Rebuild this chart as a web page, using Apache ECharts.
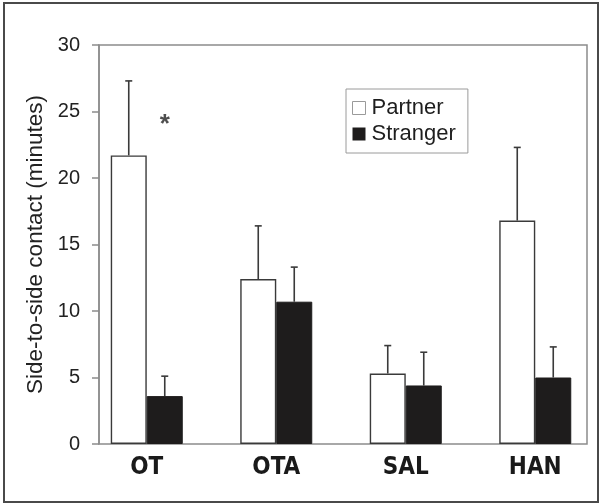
<!DOCTYPE html>
<html>
<head>
<meta charset="utf-8">
<script src="https://cdn.jsdelivr.net/npm/echarts@6/dist/echarts.min.js"></script>
<style>
  html, body { margin: 0; padding: 0; background: #fff; }
  #chart { width: 600px; height: 504px; }
</style>
</head>
<body>
<div id="chart"></div>
<script>
// Side-to-side contact time by treatment group
const categories = ['OT', 'OTA', 'SAL', 'HAN'];
const partnerMean = [21.7, 12.4, 5.3, 16.8];
const partnerSE = [5.6, 4.0, 2.1, 5.5];
const strangerMean = [3.6, 10.7, 4.4, 5.0];
const strangerSE = [1.5, 2.6, 2.5, 2.3];
const yTicks = { min: 0, max: 30, step: 5 };
// significance marker above the OT pair
const sigMarks = [['OT', 24.5]];

const BAR_W = 36;
const CAP_W = 7;
const baseFont = 'Liberation Sans, Arial, Helvetica, sans-serif';

function errorSeries(name, means, ses, side) {
  return {
    type: 'custom',
    name: name + ' SE',
    xAxisIndex: 1,
    yAxisIndex: 1,
    z: 1,
    silent: true,
    data: means.map((m, i) => [i, m, m + ses[i]]),
    renderItem: function (params, api) {
      const base = api.coord([api.value(0), api.value(1)]);
      const top = api.coord([api.value(0), api.value(2)]);
      const x = base[0] + side * BAR_W / 2;
      const style = { stroke: '#3a3a3a', lineWidth: 1.6 };
      return {
        type: 'group',
        children: [
          { type: 'line', shape: { x1: x, y1: base[1], x2: x, y2: top[1] }, style: style },
          { type: 'line', shape: { x1: x - CAP_W / 2, y1: top[1], x2: x + CAP_W / 2, y2: top[1] }, style: style }
        ]
      };
    }
  };
}

const chart = echarts.init(document.getElementById('chart'), null, { renderer: 'canvas' });

chart.setOption({
  backgroundColor: '#fff',
  animation: false,
  graphic: [{
    type: 'rect',
    shape: { x: 4, y: 3, width: 594, height: 499 },
    style: { fill: 'none', stroke: '#4a4a4a', lineWidth: 2 },
    silent: true
  }],
  legend: {
    orient: 'vertical',
    left: 346,
    top: 89,
    padding: [8, 12, 8, 6],
    itemGap: 4,
    itemWidth: 13,
    itemHeight: 13,
    borderColor: '#9a9a9a',
    borderWidth: 1,
    icon: 'rect',
    textStyle: { fontFamily: baseFont, fontSize: 22, color: '#1e1e1e', padding: [0, 0, 0, 1] },
    data: [
      { name: 'Partner', itemStyle: { color: '#fff', borderColor: '#9a9a9a', borderWidth: 1 } },
      { name: 'Stranger', itemStyle: { color: '#1e1c1c', borderColor: '#1e1c1c', borderWidth: 0 } }
    ]
  },
  grid: [
    // framed plot area with the value axis
    { left: 99, top: 45, width: 488, height: 399, show: true, borderColor: '#8c8c8c', borderWidth: 1.5, backgroundColor: 'transparent' },
    // band layout for the grouped bars
    { left: 82, top: 45, width: 524, height: 399, show: false }
  ],
  xAxis: [
    { type: 'value', gridIndex: 0, min: 0, max: 1, show: false },
    {
      type: 'category',
      gridIndex: 1,
      data: categories,
      axisLine: { show: false },
      axisTick: { show: false },
      axisLabel: {
        margin: 12,
        fontFamily: 'DejaVu Sans Condensed, ' + baseFont,
        fontWeight: 'bold',
        fontSize: 24,
        color: '#1a1a1a'
      }
    }
  ],
  yAxis: [
    {
      type: 'value',
      gridIndex: 0,
      min: yTicks.min,
      max: yTicks.max,
      interval: yTicks.step,
      name: 'Side-to-side contact (minutes)',
      nameLocation: 'middle',
      nameGap: 50,
      nameTextStyle: { fontFamily: baseFont, fontSize: 22.5, color: '#222' },
      axisLine: { show: true, lineStyle: { color: '#8c8c8c', width: 1.5 } },
      axisTick: { show: true, length: 7, lineStyle: { color: '#8c8c8c', width: 1.5 } },
      splitLine: { show: false },
      axisLabel: { margin: 19, fontFamily: baseFont, fontSize: 20, color: '#222' }
    },
    { type: 'value', gridIndex: 1, min: yTicks.min, max: yTicks.max, show: false }
  ],
  series: [
    {
      name: 'Partner',
      type: 'bar',
      xAxisIndex: 1,
      yAxisIndex: 1,
      barWidth: BAR_W,
      barGap: '0%',
      z: 2,
      data: partnerMean,
      itemStyle: { color: '#fff', borderColor: '#3a3a3a', borderWidth: 1.4 }
    },
    {
      name: 'Stranger',
      type: 'bar',
      xAxisIndex: 1,
      yAxisIndex: 1,
      barWidth: BAR_W,
      barGap: '0%',
      z: 2,
      data: strangerMean,
      itemStyle: { color: '#1e1c1c', borderColor: '#1e1c1c', borderWidth: 1 }
    },
    errorSeries('Partner', partnerMean, partnerSE, -1),
    errorSeries('Stranger', strangerMean, strangerSE, 1),
    {
      type: 'scatter',
      name: 'significance',
      xAxisIndex: 1,
      yAxisIndex: 1,
      symbolSize: 0,
      silent: true,
      data: sigMarks,
      label: {
        show: true,
        position: 'inside',
        formatter: '*',
        offset: [BAR_W / 2, 7],
        fontFamily: baseFont,
        fontWeight: 'bold',
        fontSize: 26,
        color: '#222'
      }
    }
  ]
});
</script>
</body>
</html>
